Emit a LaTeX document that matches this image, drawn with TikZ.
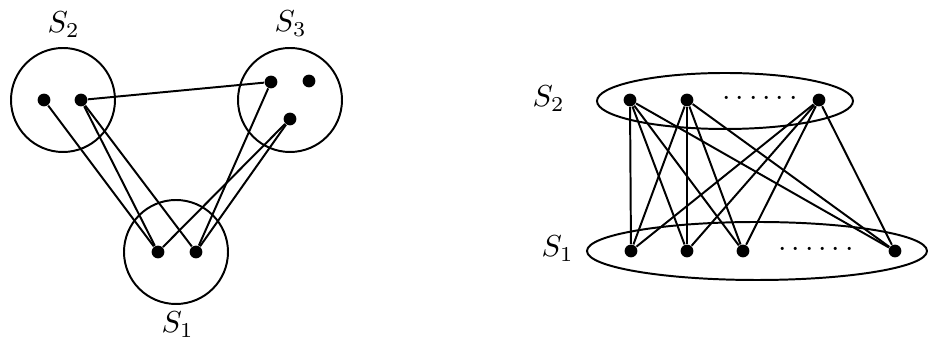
\documentclass[tikz,border=0pt]{standalone}
\usepackage{tikz}
\usetikzlibrary{positioning}
\newcommand{\dotrow}{$\cdotp\cdotp\cdotp\cdotp\cdotp\cdotp$}

\begin{document}
\begin{tikzpicture}[
  x=0.33pt, y=-0.33pt,
  vertex/.style={circle, fill=black, inner sep=0pt, minimum size=4.2pt},
  setline/.style={draw=black, line width=0.65pt},
  edge/.style={black, line width=0.65pt},
  setlabel/.style={inner sep=0pt, anchor=base west}
]
  \useasboundingbox (0,0) rectangle (928,339);

  % Left: three sets
  \draw[setline] (63,100) circle [radius=52];
  \draw[setline] (290,100) circle [radius=52];
  \draw[setline] (176,252) circle [radius=52];

  \node[setlabel] (lS2) at (47,33) {$S_2$};
  \node[setlabel] (lS3) at (274,32) {$S_3$};
  \node[setlabel] (lS1) at (161,333) {$S_1$};

  \node[vertex] (p1) at (44,100) {};
  \node[vertex] (p2) at (81,100) {};
  \node[vertex] (q1) at (271,82) {};
  \node[vertex] (q2) at (309,81) {};
  \node[vertex] (q3) at (290,119) {};
  \node[vertex] (r1) at (158,252) {};
  \node[vertex] (r2) at (196,252) {};

  \draw[edge] (p1) -- (r1);
  \draw[edge] (p2) -- (r1);
  \draw[edge] (p2) -- (r2);
  \draw[edge] (p2) -- (q1);
  \draw[edge] (q1) -- (r2);
  \draw[edge] (q3) -- (r1);
  \draw[edge] (q3) -- (r2);

  % Right: complete bipartite between S2 and S1
  \draw[setline] (725,101) ellipse [x radius=128, y radius=28];
  \draw[setline] (757,251) ellipse [x radius=170, y radius=29];

  \node[setlabel] (rS2) at (532,107) {$S_2$};
  \node[setlabel] (rS1) at (541,257) {$S_1$};

  \node[vertex] (u1) at (630,100) {};
  \node[vertex] (u2) at (687,100) {};
  \node[vertex] (u3) at (819,100) {};
  \node (udots) at (760,99) {\dotrow};

  \node[vertex] (v1) at (631,251) {};
  \node[vertex] (v2) at (687,251) {};
  \node[vertex] (v3) at (743,251) {};
  \node[vertex] (v4) at (895,251) {};
  \node (vdots) at (816,250) {\dotrow};

  \foreach \u in {u1,u2,u3}
    \foreach \v in {v1,v2,v3,v4}
      \draw[edge] (\u) -- (\v);
\end{tikzpicture}
\end{document}
